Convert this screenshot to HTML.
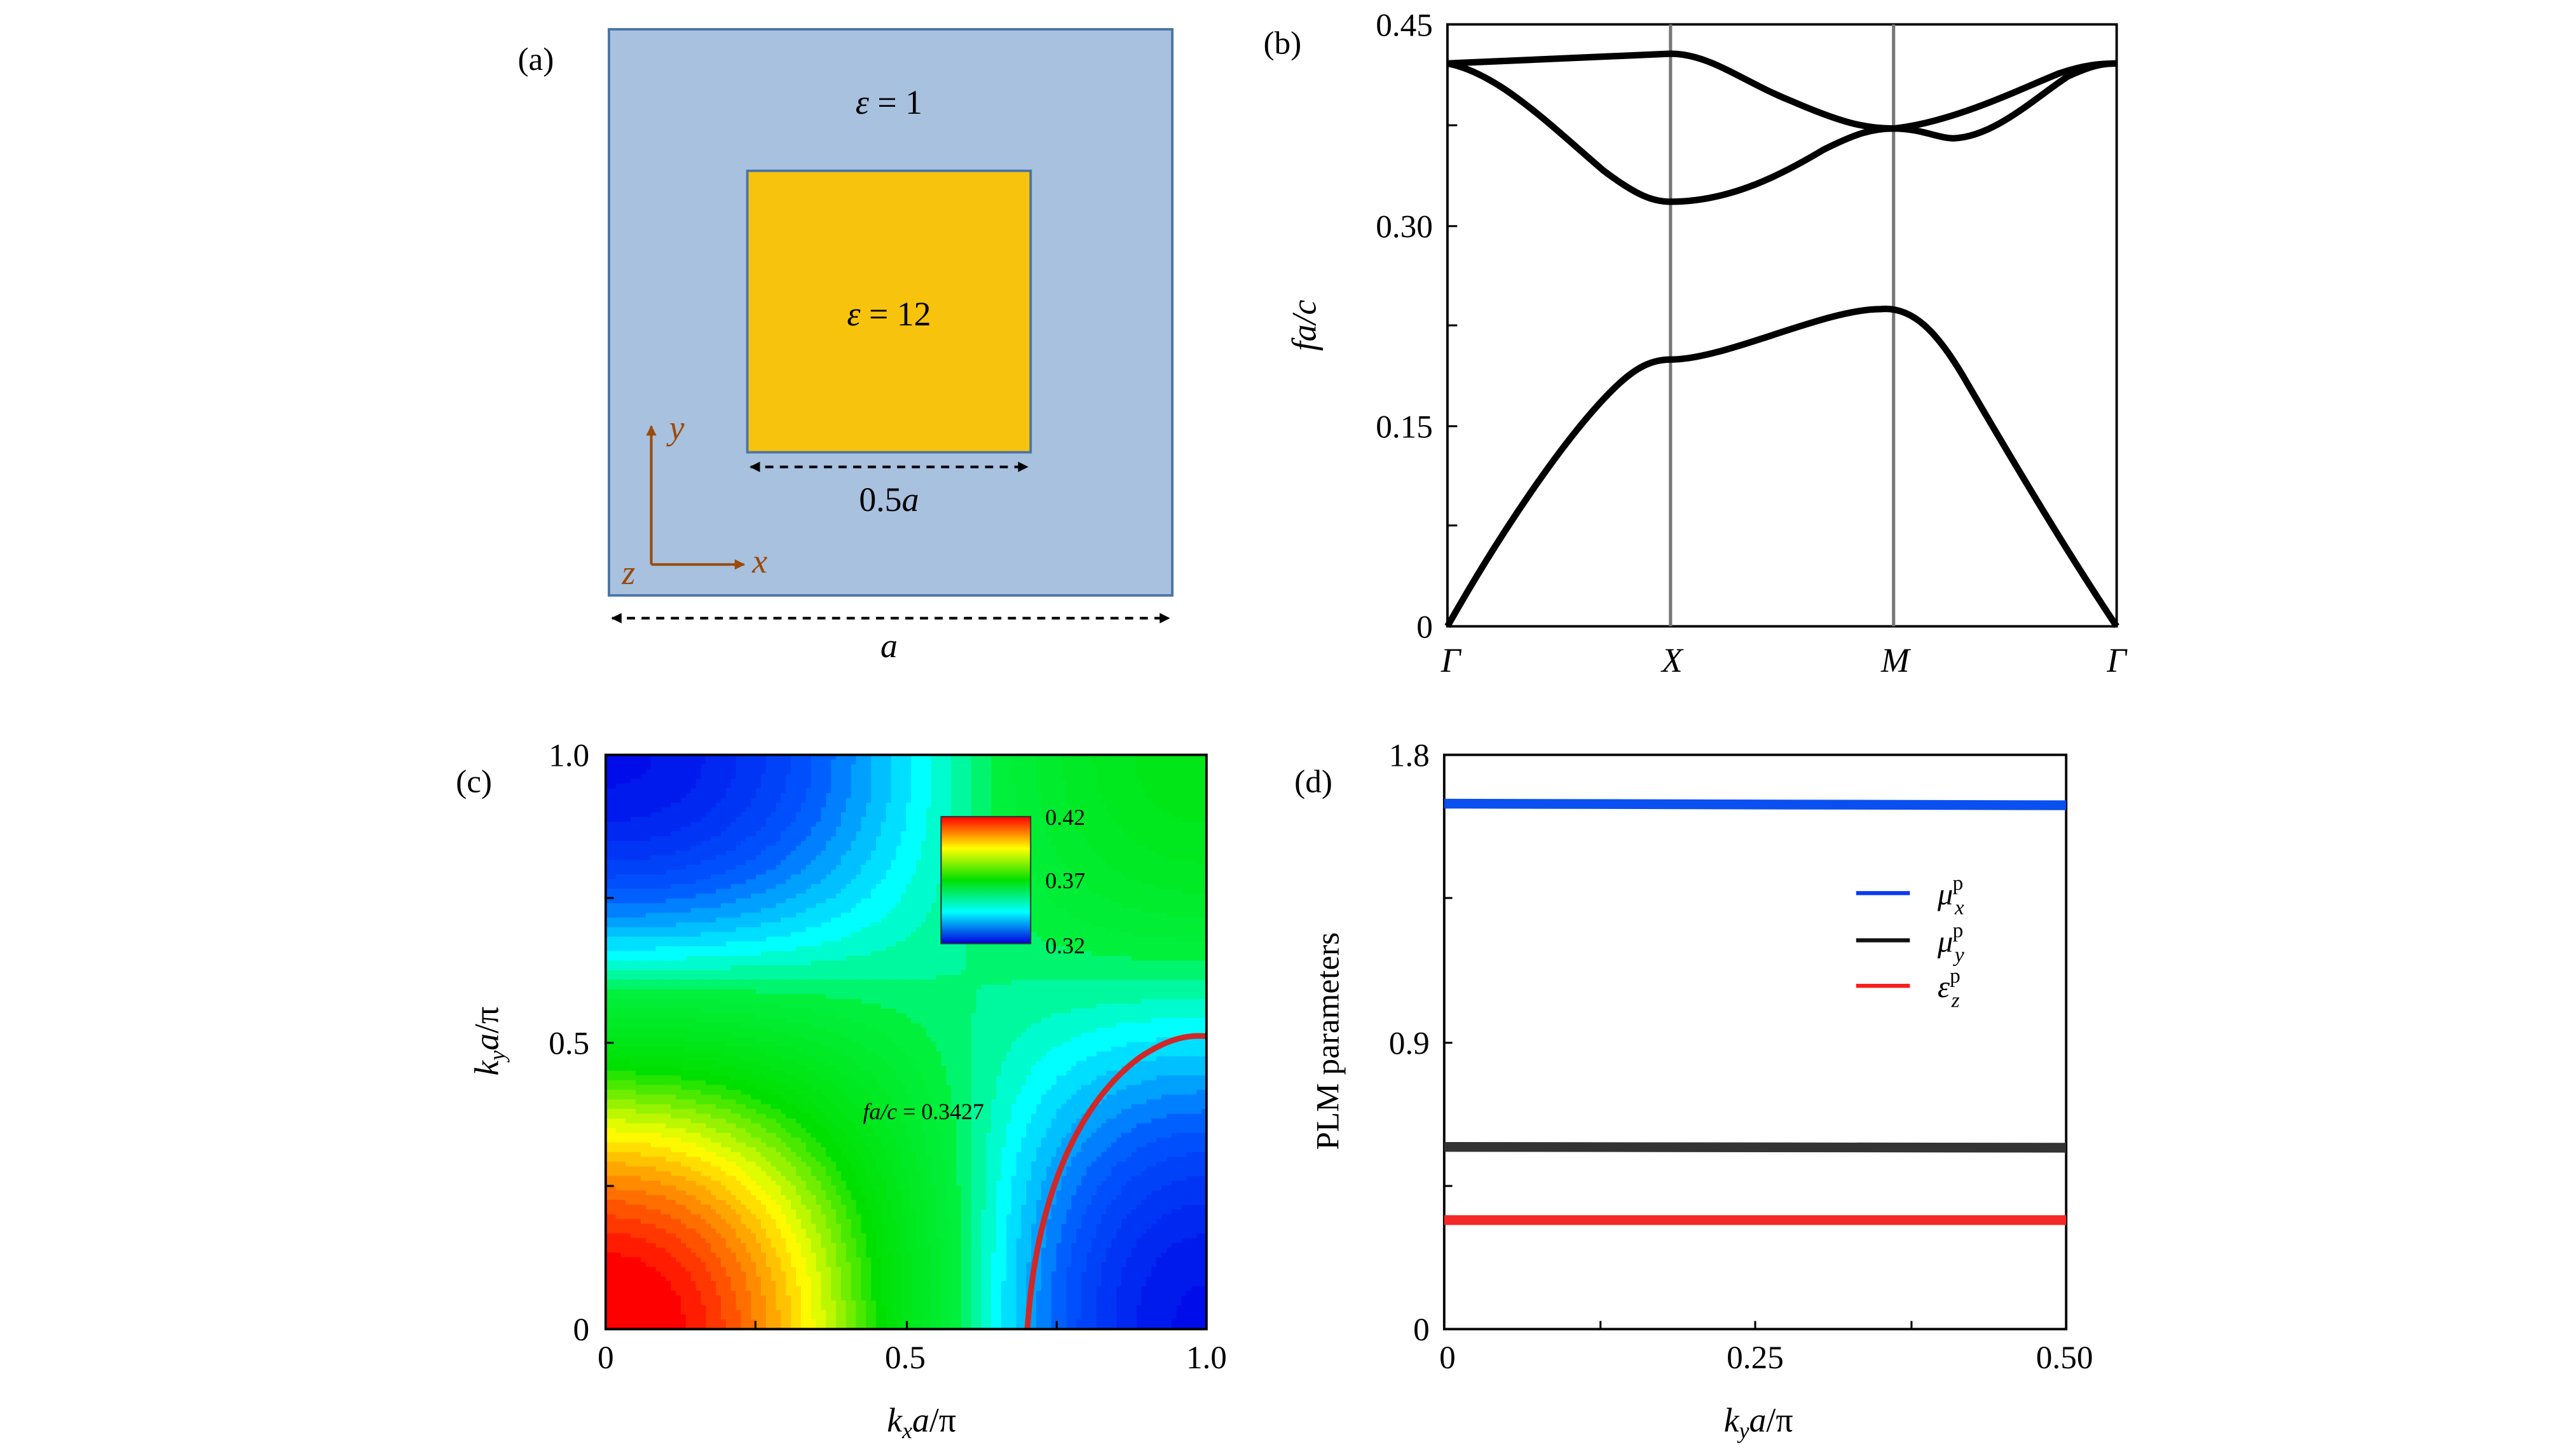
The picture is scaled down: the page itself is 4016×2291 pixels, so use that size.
<!DOCTYPE html>
<html><head><meta charset="utf-8"><style>
html,body{margin:0;padding:0;background:#fff;}
svg{display:block;}
text{font-family:"Liberation Serif",serif;fill:#000;}
.it{font-style:italic;}
</style></head><body>
<svg id="s" width="4016" height="2291" viewBox="0 0 1568 895" preserveAspectRatio="none" xmlns="http://www.w3.org/2000/svg">
<defs>
<marker id="ah" viewBox="0 0 10 10" refX="9" refY="5" markerWidth="4" markerHeight="4" orient="auto-start-reverse"><path d="M0,0L10,5L0,10z" fill="#000"/></marker>
<marker id="ab" viewBox="0 0 10 10" refX="9" refY="5" markerWidth="4" markerHeight="4" orient="auto"><path d="M0,0L10,5L0,10z" fill="#9a4a0c"/></marker>
<linearGradient id="cb" x1="0" y1="1" x2="0" y2="0">
<stop offset="0" stop-color="#0000e0"/><stop offset="0.25" stop-color="#00ffff"/><stop offset="0.5" stop-color="#00e000"/><stop offset="0.75" stop-color="#ffff00"/><stop offset="1" stop-color="#ff0000"/>
</linearGradient>
<clipPath id="cc"><rect x="372" y="464" width="369" height="353"/></clipPath>
</defs>
<!-- (a) -->
<text x="318" y="43" font-size="20">(a)</text>
<rect x="374" y="18" width="346" height="348" fill="#a7c1df" stroke="#4a74a4" stroke-width="1.5"/>
<rect x="459" y="105" width="174" height="173" fill="#f8c30d" stroke="#4a74a4" stroke-width="1.5"/>
<text x="546" y="70" font-size="21" text-anchor="middle"><tspan class="it">ε</tspan> = 1</text>
<text x="546" y="200" font-size="21" text-anchor="middle"><tspan class="it">ε</tspan> = 12</text>
<line x1="461" y1="287" x2="631" y2="287" stroke="#000" stroke-width="1.6" stroke-dasharray="5,4" marker-start="url(#ah)" marker-end="url(#ah)"/>
<text x="546" y="314" font-size="21" text-anchor="middle">0.5<tspan class="it">a</tspan></text>
<line x1="376" y1="380" x2="718" y2="380" stroke="#000" stroke-width="1.6" stroke-dasharray="5,4" marker-start="url(#ah)" marker-end="url(#ah)"/>
<text x="546" y="404" font-size="21" text-anchor="middle" class="it">a</text>
<line x1="400" y1="347" x2="400" y2="262" stroke="#9a4a0c" stroke-width="1.6" marker-end="url(#ab)"/>
<line x1="400" y1="347" x2="457" y2="347" stroke="#9a4a0c" stroke-width="1.6" marker-end="url(#ab)"/>
<text x="411" y="270" font-size="21" class="it" style="fill:#9a4a0c">y</text>
<text x="462" y="352" font-size="21" class="it" style="fill:#9a4a0c">x</text>
<text x="382" y="359" font-size="21" class="it" style="fill:#9a4a0c">z</text>
<!-- (b) -->
<text x="776" y="33" font-size="20">(b)</text>
<rect x="889" y="15" width="411" height="370" fill="none" stroke="#000" stroke-width="1.5"/>
<line x1="1026" y1="15" x2="1026" y2="385" stroke="#777" stroke-width="2"/>
<line x1="1163" y1="15" x2="1163" y2="385" stroke="#777" stroke-width="2"/>
<g stroke="#000" stroke-width="1.2">
<line x1="889" y1="15" x2="895" y2="15"/><line x1="889" y1="77" x2="895" y2="77"/><line x1="889" y1="139" x2="895" y2="139"/><line x1="889" y1="200" x2="895" y2="200"/><line x1="889" y1="262" x2="895" y2="262"/><line x1="889" y1="323" x2="895" y2="323"/>
</g>
<g font-size="20" text-anchor="end">
<text x="880" y="22">0.45</text><text x="880" y="146">0.30</text><text x="880" y="269">0.15</text><text x="880" y="392">0</text>
</g>
<g font-size="21" class="it" text-anchor="middle">
<text x="891" y="413">Γ</text><text x="1027" y="413">X</text><text x="1164" y="413">M</text><text x="1300" y="413">Γ</text>
</g>
<text transform="translate(808,200) rotate(-90)" font-size="21" class="it" text-anchor="middle">fa/c</text>
<g fill="none" stroke="#000" stroke-width="4" stroke-linejoin="round">
<path d="M889,385 C920,330 960,270 990,240 C1005,225 1015,221 1026,221 C1060,221 1120,190 1155,190 C1175,188 1190,205 1205,230 C1240,290 1270,340 1300,385"/>
<path d="M889,39 L1026,33 C1050,33 1070,50 1100,62 C1130,75 1145,79 1163,79 C1200,75 1240,55 1265,45 C1280,40 1290,39 1300,39"/>
<path d="M889,39 C920,45 950,75 985,105 C1005,120 1015,124 1026,124 C1060,124 1090,110 1120,92 C1140,82 1150,79 1163,79 C1180,79 1190,85 1200,85 C1225,84 1250,60 1270,47 C1285,40 1292,39 1300,39"/>
</g>
<!-- (c) -->
<text x="280" y="487" font-size="20">(c)</text>
<g id="cmap" clip-path="url(#cc)"></g>
<path d="M631,817 C636,740 660,680 700,650 C718,638 730,636 741,637" fill="none" stroke="#d02828" stroke-width="3.5" clip-path="url(#cc)"/>
<text x="530" y="688" font-size="14" class="it">fa/c<tspan font-style="normal"> = 0.3427</tspan></text>
<rect x="372" y="464" width="369" height="353" fill="none" stroke="#000" stroke-width="1.5"/>
<rect x="578" y="502" width="55" height="78" fill="url(#cb)" stroke="#333" stroke-width="0.8"/>
<g font-size="14"><text x="642" y="507">0.42</text><text x="642" y="546">0.37</text><text x="642" y="586">0.32</text></g>
<g stroke="#000" stroke-width="1.2">
<line x1="372" y1="552" x2="377" y2="552"/><line x1="372" y1="641" x2="377" y2="641"/><line x1="372" y1="729" x2="377" y2="729"/>
<line x1="464" y1="817" x2="464" y2="812"/><line x1="557" y1="817" x2="557" y2="812"/><line x1="649" y1="817" x2="649" y2="812"/>
</g>
<g font-size="20" text-anchor="end"><text x="362" y="471">1.0</text><text x="362" y="648">0.5</text><text x="362" y="824">0</text></g>
<g font-size="20" text-anchor="middle"><text x="372" y="841">0</text><text x="556" y="841">0.5</text><text x="741" y="841">1.0</text></g>
<text x="566" y="880" font-size="21" text-anchor="middle"><tspan class="it">k</tspan><tspan class="it" font-size="14" dy="4">x</tspan><tspan class="it" dy="-4">a</tspan>/π</text>
<text transform="translate(306,640) rotate(-90)" font-size="21" text-anchor="middle"><tspan class="it">k</tspan><tspan class="it" font-size="14" dy="4">y</tspan><tspan class="it" dy="-4">a</tspan>/π</text>
<!-- (d) -->
<text x="795" y="487" font-size="20">(d)</text>
<rect x="887" y="464" width="382" height="353" fill="none" stroke="#000" stroke-width="1.5"/>
<g stroke="#000" stroke-width="1.2">
<line x1="887" y1="552" x2="892" y2="552"/><line x1="887" y1="641" x2="892" y2="641"/><line x1="887" y1="729" x2="892" y2="729"/>
<line x1="983" y1="817" x2="983" y2="812"/><line x1="1078" y1="817" x2="1078" y2="812"/><line x1="1174" y1="817" x2="1174" y2="812"/>
</g>
<line x1="887" y1="494" x2="1269" y2="495" stroke="#0a4ff0" stroke-width="6"/>
<line x1="887" y1="705" x2="1269" y2="705.5" stroke="#333" stroke-width="6"/>
<line x1="887" y1="750" x2="1269" y2="750" stroke="#f42828" stroke-width="6"/>
<line x1="1140" y1="549" x2="1173" y2="549" stroke="#0a3af0" stroke-width="2.5"/>
<line x1="1140" y1="578" x2="1173" y2="578" stroke="#111" stroke-width="2.5"/>
<line x1="1140" y1="606" x2="1173" y2="606" stroke="#f42020" stroke-width="2.5"/>
<g font-size="19" class="it">
<text x="1190" y="556">μ<tspan font-size="13" dx="1" dy="6">x</tspan><tspan font-size="13" font-style="normal" dx="-7" dy="-15">p</tspan></text>
<text x="1190" y="585">μ<tspan font-size="13" dx="1" dy="6">y</tspan><tspan font-size="13" font-style="normal" dx="-7" dy="-15">p</tspan></text>
<text x="1190" y="613">ε<tspan font-size="13" dx="1" dy="6">z</tspan><tspan font-size="13" font-style="normal" dx="-6" dy="-15">p</tspan></text>
</g>
<g font-size="20" text-anchor="end"><text x="878" y="471">1.8</text><text x="878" y="648">0.9</text><text x="878" y="824">0</text></g>
<g font-size="20" text-anchor="middle"><text x="889" y="841">0</text><text x="1078" y="841">0.25</text><text x="1268" y="841">0.50</text></g>
<text x="1080" y="880" font-size="21" text-anchor="middle"><tspan class="it">k</tspan><tspan class="it" font-size="14" dy="4">y</tspan><tspan class="it" dy="-4">a</tspan>/π</text>
<text transform="translate(822,640) rotate(-90)" font-size="20" text-anchor="middle">PLM parameters</text>
</svg>
<script>
(function(){
var g=document.getElementById('cmap');var N=120;var x0=372,y0=464,W=369,H=353;
var stops=[[0.32,[0,0,230]],[0.337,[0,90,255]],[0.35,[0,255,255]],[0.36,[0,240,60]],[0.38,[0,224,0]],[0.397,[255,255,0]],[0.42,[255,0,0]]];
function col(v){v=Math.max(0.32,Math.min(0.42,v));for(var i=0;i<stops.length-1;i++){var a=stops[i],b=stops[i+1];if(v<=b[0]){var t=(v-a[0])/(b[0]-a[0]);return 'rgb('+[0,1,2].map(function(k){return Math.round(a[1][k]+t*(b[1][k]-a[1][k]))}).join(',')+')';}}return 'rgb(255,0,0)';}
var s='';var dw=W/N,dh=H/N;
for(var i=0;i<N;i++)for(var j=0;j<N;j++){
var kx=(i+0.5)/N,ky=1-(j+0.5)/N;var cx=Math.cos(Math.PI*kx),cy=Math.cos(Math.PI*ky);
var v=0.3605+0.0125*(cx+cy)+0.0375*cx*cy;v=Math.round(v/0.0025)*0.0025;
s+='<rect x="'+(x0+i*dw).toFixed(2)+'" y="'+(y0+j*dh).toFixed(2)+'" width="'+(dw+0.6).toFixed(2)+'" height="'+(dh+0.6).toFixed(2)+'" fill="'+col(v)+'"/>';}
g.innerHTML=s;
})();
</script>
</body></html>
